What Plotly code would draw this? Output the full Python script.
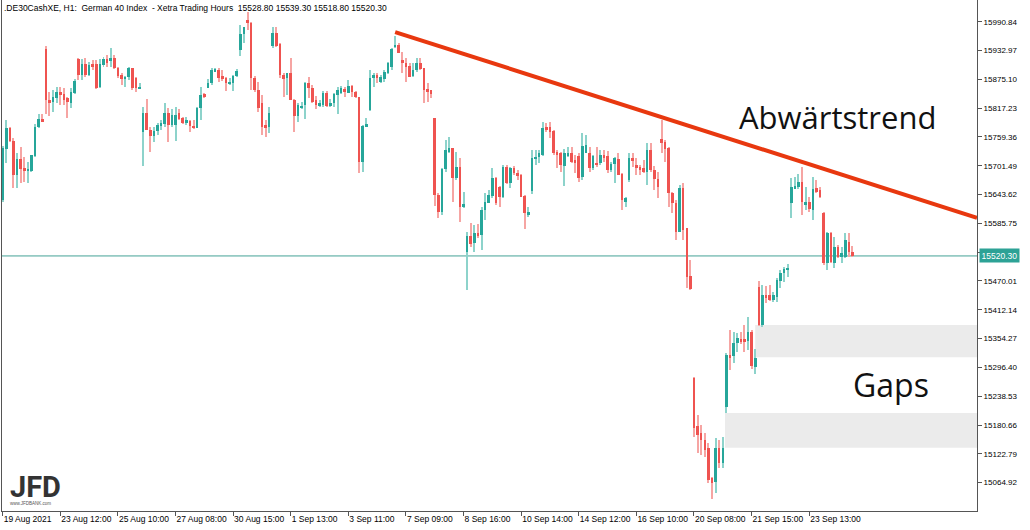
import plotly.graph_objects as go

# ---------------- data (DE30 H1, 19 Aug 2021 14:00 .. 24 Sep 2021 16:00) ----------------
open_prices = [
    15632, 15735, 15777, 15751, 15682, 15715, 15697, 15691, 15691, 15721,
    15779, 15795, 15936, 15833, 15829, 15837, 15849, 15845, 15837, 15827,
    15847, 15915, 15883, 15905, 15883, 15905, 15905, 15859, 15903, 15915,
    15911, 15917, 15897, 15883, 15877, 15879, 15897, 15877, 15857, 15769,
    15807, 15773, 15761, 15771, 15783, 15785, 15807, 15783, 15783, 15807,
    15797, 15787, 15791, 15781, 15777, 15817, 15845, 15857, 15867, 15891,
    15893, 15881, 15877, 15867, 15867, 15881, 15934, 15966, 15994, 15988,
    15877, 15853, 15827, 15783, 15779, 15942, 15968, 15946, 15883, 15877,
    15887, 15833, 15801, 15819, 15823, 15867, 15857, 15833, 15823, 15823,
    15847, 15821, 15827, 15843, 15847, 15855, 15847, 15861, 15849, 15839,
    15709, 15781, 15813, 15877, 15883, 15869, 15875, 15887, 15899, 15940,
    15944, 15913, 15907, 15901, 15881, 15893, 15907, 15897, 15855, 15853,
    15797, 15642, 15608, 15695, 15729, 15737, 15676, 15699, 15618, 15528,
    15560, 15546, 15566, 15562, 15612, 15626, 15640, 15676, 15658, 15638,
    15699, 15666, 15697, 15686, 15682, 15640, 15602, 15650, 15717, 15719,
    15723, 15779, 15779, 15771, 15729, 15727, 15701, 15721, 15727, 15713,
    15721, 15678, 15727, 15727, 15697, 15707, 15707, 15723, 15721, 15693,
    15705, 15715, 15684, 15628, 15672, 15717, 15703, 15699, 15697, 15689,
    15733, 15693, 15674, 15755, 15749, 15737, 15646, 15626, 15568, 15656,
    15576, 15480, 15275, 15178, 15164, 15150, 15134, 15074, 15066, 15134,
    15104, 15216, 15321, 15319, 15345, 15353, 15353, 15349, 15367, 15297,
    15458, 15381, 15441, 15441, 15431, 15437, 15470, 15486, 15494, 15626,
    15656, 15658, 15668, 15624, 15628, 15612, 15656, 15652, 15606, 15506,
    15566, 15506, 15538, 15518, 15518, 15548, 15528.8,
]
high_prices = [
    15741, 15793, 15779, 15757, 15727, 15739, 15719, 15709, 15723, 15785,
    15805, 15805, 15942, 15849, 15853, 15859, 15859, 15857, 15839, 15857,
    15875, 15917, 15915, 15917, 15909, 15913, 15913, 15915, 15920, 15924,
    15938, 15924, 15899, 15887, 15881, 15899, 15897, 15879, 15867, 15819,
    15835, 15779, 15779, 15787, 15793, 15827, 15817, 15815, 15819, 15815,
    15799, 15799, 15793, 15793, 15819, 15859, 15847, 15875, 15897, 15897,
    15897, 15893, 15879, 15877, 15883, 15895, 15984, 15980, 16010, 15990,
    15881, 15869, 15843, 15793, 15819, 15980, 15980, 15948, 15887, 15887,
    15917, 15835, 15827, 15829, 15869, 15879, 15863, 15841, 15833, 15851,
    15851, 15835, 15847, 15859, 15861, 15859, 15873, 15863, 15851, 15839,
    15783, 15797, 15893, 15887, 15887, 15883, 15893, 15909, 15938, 15962,
    15948, 15930, 15917, 15907, 15907, 15917, 15917, 15897, 15867, 15853,
    15797, 15646, 15697, 15753, 15759, 15737, 15729, 15717, 15648, 15568,
    15586, 15582, 15584, 15618, 15646, 15652, 15697, 15678, 15660, 15703,
    15703, 15699, 15701, 15693, 15684, 15642, 15618, 15733, 15733, 15733,
    15789, 15787, 15789, 15773, 15733, 15729, 15735, 15739, 15739, 15723,
    15727, 15767, 15763, 15739, 15723, 15739, 15733, 15733, 15731, 15709,
    15719, 15727, 15686, 15638, 15727, 15727, 15717, 15703, 15713, 15747,
    15747, 15701, 15689, 15793, 15753, 15739, 15648, 15632, 15662, 15666,
    15576, 15512, 15277, 15200, 15180, 15164, 15144, 15076, 15154, 15150,
    15156, 15325, 15371, 15367, 15365, 15367, 15381, 15397, 15371, 15333,
    15470, 15462, 15460, 15462, 15447, 15476, 15492, 15498, 15504, 15676,
    15678, 15684, 15699, 15658, 15638, 15678, 15672, 15658, 15608, 15568,
    15568, 15558, 15542, 15538, 15566, 15566, 15539.3,
]
low_prices = [
    15628, 15707, 15749, 15656, 15656, 15666, 15668, 15666, 15689, 15719,
    15777, 15789, 15805, 15801, 15809, 15827, 15823, 15823, 15797, 15817,
    15845, 15873, 15873, 15879, 15881, 15893, 15855, 15857, 15899, 15899,
    15899, 15895, 15877, 15863, 15859, 15873, 15853, 15849, 15855, 15701,
    15773, 15729, 15749, 15763, 15773, 15779, 15749, 15779, 15751, 15793,
    15785, 15783, 15769, 15775, 15777, 15793, 15837, 15857, 15863, 15889,
    15869, 15871, 15851, 15863, 15851, 15879, 15922, 15948, 15974, 15853,
    15849, 15809, 15763, 15759, 15767, 15938, 15940, 15877, 15839, 15843,
    15833, 15769, 15789, 15815, 15795, 15837, 15827, 15815, 15819, 15819,
    15819, 15819, 15819, 15805, 15845, 15839, 15847, 15839, 15837, 15686,
    15689, 15779, 15811, 15859, 15867, 15867, 15869, 15885, 15893, 15938,
    15928, 15887, 15869, 15879, 15879, 15889, 15893, 15827, 15829, 15837,
    15620, 15596, 15602, 15689, 15727, 15628, 15672, 15588, 15616, 15451,
    15538, 15528, 15556, 15532, 15592, 15626, 15636, 15622, 15618, 15636,
    15664, 15656, 15682, 15672, 15638, 15574, 15598, 15644, 15703, 15707,
    15721, 15769, 15757, 15723, 15697, 15689, 15660, 15719, 15707, 15686,
    15668, 15672, 15727, 15689, 15693, 15699, 15703, 15709, 15686, 15689,
    15666, 15682, 15612, 15618, 15668, 15699, 15682, 15682, 15686, 15662,
    15689, 15652, 15636, 15727, 15709, 15618, 15606, 15552, 15568, 15552,
    15455, 15451, 15156, 15124, 15120, 15116, 15064, 15032, 15044, 15094,
    15094, 15204, 15291, 15305, 15327, 15343, 15327, 15331, 15293, 15283,
    15379, 15377, 15425, 15429, 15427, 15427, 15455, 15468, 15478, 15596,
    15654, 15654, 15602, 15612, 15608, 15592, 15646, 15636, 15502, 15492,
    15506, 15496, 15516, 15506, 15516, 15518, 15518.8,
]
close_prices = [
    15737, 15777, 15751, 15682, 15715, 15695, 15691, 15695, 15723, 15779,
    15795, 15791, 15833, 15829, 15839, 15849, 15845, 15833, 15829, 15849,
    15871, 15883, 15905, 15883, 15903, 15901, 15857, 15905, 15915, 15907,
    15917, 15897, 15881, 15875, 15879, 15897, 15857, 15857, 15859, 15807,
    15773, 15761, 15771, 15783, 15787, 15807, 15783, 15803, 15803, 15795,
    15787, 15793, 15781, 15779, 15817, 15843, 15839, 15867, 15893, 15895,
    15877, 15875, 15867, 15869, 15881, 15891, 15966, 15980, 15988, 15877,
    15853, 15817, 15779, 15779, 15807, 15968, 15942, 15883, 15875, 15887,
    15833, 15801, 15823, 15821, 15867, 15857, 15829, 15823, 15827, 15847,
    15821, 15827, 15845, 15853, 15857, 15849, 15861, 15849, 15839, 15709,
    15781, 15785, 15877, 15883, 15879, 15879, 15889, 15907, 15936, 15944,
    15928, 15907, 15899, 15879, 15893, 15907, 15895, 15853, 15851, 15845,
    15642, 15608, 15695, 15733, 15737, 15676, 15699, 15618, 15624, 15560,
    15544, 15566, 15560, 15612, 15628, 15642, 15676, 15626, 15638, 15699,
    15666, 15697, 15686, 15680, 15638, 15606, 15608, 15717, 15719, 15727,
    15777, 15775, 15769, 15727, 15723, 15703, 15727, 15727, 15709, 15707,
    15676, 15741, 15743, 15697, 15721, 15703, 15723, 15719, 15693, 15705,
    15717, 15682, 15632, 15636, 15717, 15713, 15697, 15693, 15689, 15733,
    15693, 15674, 15658, 15747, 15735, 15646, 15626, 15568, 15656, 15572,
    15478, 15453, 15174, 15160, 15150, 15130, 15070, 15064, 15134, 15104,
    15134, 15321, 15317, 15345, 15355, 15349, 15349, 15367, 15299, 15315,
    15381, 15441, 15437, 15431, 15441, 15472, 15486, 15494, 15496, 15658,
    15660, 15668, 15628, 15628, 15614, 15654, 15648, 15638, 15506, 15566,
    15508, 15538, 15518, 15526, 15552, 15528, 15520.3,
]

x_tick_labels = [
    "19 Aug 2021", "23 Aug 12:00", "25 Aug 10:00", "27 Aug 08:00", "30 Aug 15:00",
    "1 Sep 13:00", "3 Sep 11:00", "7 Sep 09:00", "8 Sep 16:00", "10 Sep 14:00",
    "14 Sep 12:00", "16 Sep 10:00", "20 Sep 08:00", "21 Sep 15:00", "23 Sep 13:00",
]
bars_per_label = 16
y_tick_labels = [
    "15990.84", "15932.97", "15875.10", "15817.23", "15759.36", "15701.49",
    "15643.62", "15585.75", "15527.88", "15470.01", "15412.14", "15354.27",
    "15296.40", "15238.53", "15180.66", "15122.79", "15064.92",
]
header_text = ".DE30CashXE, H1:  German 40 Index  - Xetra Trading Hours  15528.80 15539.30 15518.80 15520.30"
last_price = close_prices[-1]

# analyst drawings (data units)
trend_start = (109.0, 15970)
trend_end = (270.6, 15597)
gap_upper = (209.0, 15317, 15381.5)
gap_lower = (200.6, 15135, 15205)

# ---------------- styling ----------------
BULL = "#26a69a"
BEAR = "#ef5350"
BULL_WICK = "#8dd3cb"
BEAR_WICK = "#f6a5a3"

n = len(close_prices)
idx = list(range(n))
is_bull = [c >= o for o, c in zip(open_prices, close_prices)]
body_base = [min(o, c) for o, c in zip(open_prices, close_prices)]
body_h = [max(abs(c - o), 2.0) for o, c in zip(open_prices, close_prices)]
wick_h = [h - l for h, l in zip(high_prices, low_prices)]

fig = go.Figure()
fig.add_trace(go.Bar(
    x=idx, y=wick_h, base=low_prices, width=0.28,
    marker=dict(color=[BULL_WICK if b else BEAR_WICK for b in is_bull], line=dict(width=0)),
    hoverinfo="skip", showlegend=False,
))
fig.add_trace(go.Bar(
    x=idx, y=body_h, base=body_base, width=0.72,
    marker=dict(color=[BULL if b else BEAR for b in is_bull], line=dict(width=0)),
    hoverinfo="skip", showlegend=False,
))

x_range = [-0.19, 270.6]
y_range = [15008.0, 16034.4]

shapes = [
    dict(type="rect", xref="x", yref="y", x0=gap_upper[0], x1=x_range[1], y0=gap_upper[1], y1=gap_upper[2],
         fillcolor="#ebebeb", line=dict(width=0), layer="below"),
    dict(type="rect", xref="x", yref="y", x0=gap_lower[0], x1=x_range[1], y0=gap_lower[1], y1=gap_lower[2],
         fillcolor="#ebebeb", line=dict(width=0), layer="below"),
    dict(type="line", xref="paper", yref="y", x0=0, x1=1, y0=last_price, y1=last_price,
         line=dict(color="#44a396", width=1), layer="below"),
    dict(type="line", xref="x", yref="y", x0=trend_start[0], y0=trend_start[1], x1=trend_end[0], y1=trend_end[1],
         line=dict(color="#e8380f", width=4)),
]

AX_FONT = "Liberation Sans, Arial, sans-serif"
annotations = [
    dict(xref="paper", yref="paper", x=0, y=1, xshift=0, yshift=-1, xanchor="left", yanchor="top",
         text=header_text, showarrow=False, font=dict(family=AX_FONT, size=8.5, color="#000000")),
    dict(xref="paper", yref="y", x=1, y=last_price, xshift=2, xanchor="left", yanchor="middle",
         text=f"{last_price:.2f}", showarrow=False, bgcolor="#2da296", borderpad=1.5,
         font=dict(family=AX_FONT, size=8.5, color="#ffffff")),
    dict(xref="paper", yref="paper", x=0.857, y=0.772, xanchor="center", yanchor="middle",
         text="Abwärtstrend", showarrow=False, font=dict(family="Open Sans, sans-serif", size=31, color="#111111")),
    dict(xref="paper", yref="paper", x=0.912, y=0.247, xanchor="center", yanchor="middle",
         text="Gaps", showarrow=False, font=dict(family="Open Sans, sans-serif", size=32, color="#111111")),
    dict(xref="paper", yref="paper", x=0.006, y=0.046, xanchor="left", yanchor="middle",
         text="<b>JFD</b>", showarrow=False, font=dict(family="Roboto, sans-serif", size=29, color="#333333")),
    dict(xref="paper", yref="paper", x=0.006, y=0.014, xanchor="left", yanchor="middle",
         text="www.JFDBANK.com", showarrow=False, font=dict(family=AX_FONT, size=4.5, color="#555555")),
]

fig.update_layout(
    width=1030, height=530,
    margin=dict(l=2, r=53, t=0, b=19, autoexpand=False),
    paper_bgcolor="#ffffff", plot_bgcolor="#ffffff",
    barmode="overlay", bargap=0,
    shapes=shapes, annotations=annotations,
    showlegend=False,
    xaxis=dict(
        range=x_range, showgrid=False, zeroline=False, automargin=False,
        showline=True, linecolor="#555555", linewidth=1,
        ticks="outside", ticklen=4, tickcolor="#555555", tickangle=0,
        tickvals=[i * bars_per_label for i in range(len(x_tick_labels))],
        ticktext=x_tick_labels, ticklabelposition="outside right",
        tickfont=dict(family=AX_FONT, size=8.5, color="#000000"),
    ),
    yaxis=dict(
        range=y_range, side="right", showgrid=False, zeroline=False, automargin=False,
        showline=True, linecolor="#555555", linewidth=1, mirror=True,
        ticks="outside", ticklen=4, tickcolor="#555555",
        tickvals=[float(t) for t in y_tick_labels], ticktext=y_tick_labels,
        tickfont=dict(family=AX_FONT, size=8, color="#000000"),
    ),
)

fig.write_html(
    "out.html",
    config={"displayModeBar": False},
    post_script="document.body.style.margin='0';document.body.style.overflow='hidden';",
)
